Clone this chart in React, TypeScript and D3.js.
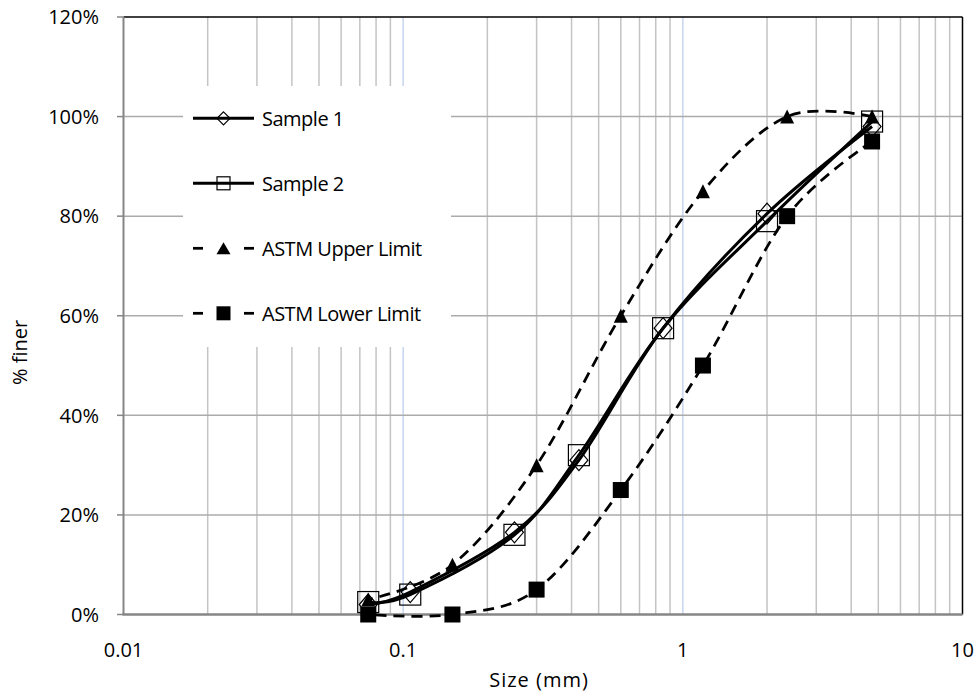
import React from "react";
import * as d3 from "d3";

// ---- Data ----
const sampleSizes = [4.75, 2.0, 0.85, 0.425, 0.25, 0.106, 0.075];
const sample1 = [98, 80.5, 57.5, 31, 16.5, 4.5, 2.0];
const sample2 = [99, 79, 57.5, 32, 16, 4, 2.5];
const limitSizes = [4.75, 2.36, 1.18, 0.6, 0.3, 0.15, 0.075];
const upperLimit = [100, 100, 85, 60, 30, 10, 3];
const lowerLimit = [95, 80, 50, 25, 5, 0, 0];
const yTicks = [0, 20, 40, 60, 80, 100, 120];
const xTicks = [0.01, 0.1, 1, 10];
const seriesNames = ["Sample 1", "Sample 2", "ASTM Upper Limit", "ASTM Lower Limit"];

const W = 979;
const H = 700;
const FONT = "'Open Sans', 'DejaVu Sans', sans-serif";

export default function App() {
  const x = d3.scaleLog().domain([0.01, 10]).range([123.5, 962.5]);
  const y = d3.scaleLinear().domain([0, 120]).range([614.5, 17]);

  const minor: number[] = [];
  [0.01, 0.1, 1].forEach((d) => {
    for (let k = 2; k <= 9; k++) minor.push(k * d);
  });

  const line = d3
    .line<[number, number]>()
    .x((p) => x(p[0]))
    .y((p) => y(p[1]))
    .curve(d3.curveCardinal.tension(0));

  const pts = (xs: number[], ys: number[]) => xs.map((v, i) => [v, ys[i]] as [number, number]);

  const series = [
    { name: seriesNames[0], data: pts(sampleSizes, sample1), dash: null, marker: "diamond" },
    { name: seriesNames[1], data: pts(sampleSizes, sample2), dash: null, marker: "square" },
    { name: seriesNames[2], data: pts(limitSizes, upperLimit), dash: "11,7", marker: "triangle" },
    { name: seriesNames[3], data: pts(limitSizes, lowerLimit), dash: "11,7", marker: "fsquare" },
  ];

  const marker = (type: string, cx: number, cy: number, big: boolean, key: string) => {
    if (type === "diamond") {
      const hw = big ? 9 : 6.5;
      const hh = big ? 10.5 : 6.5;
      return (
        <path
          key={key}
          d={`M${cx},${cy - hh}L${cx + hw},${cy}L${cx},${cy + hh}L${cx - hw},${cy}Z`}
          fill="none"
          stroke="#000"
          strokeWidth={1.2}
        />
      );
    }
    if (type === "square") {
      const h = big ? 10.5 : 6.5;
      return (
        <rect key={key} x={cx - h} y={cy - h} width={2 * h} height={2 * h} fill="none" stroke="#000" strokeWidth={1.2} />
      );
    }
    if (type === "triangle") {
      const hw = 7;
      const hh = big ? 7 : 6;
      return (
        <path key={key} d={`M${cx},${cy - hh}L${cx + hw},${cy + hh}L${cx - hw},${cy + hh}Z`} fill="#000" />
      );
    }
    const h = big ? 8 : 7;
    return <rect key={key} x={cx - h} y={cy - h} width={2 * h} height={2 * h} fill="#000" />;
  };

  const legendX0 = 193;
  const legendX1 = 254;
  const legendYs = [118.3, 183.3, 248.3, 313.3];

  return (
    <svg width={W} height={H} style={{ display: "block", position: "absolute", left: 0, top: 0 }}>
      <rect x={0} y={0} width={W} height={H} fill="#fff" />
      {/* vertical minor gridlines */}
      {minor.map((v) => (
        <line key={"mv" + v} x1={x(v)} x2={x(v)} y1={y(120)} y2={y(0)} stroke="#c4c4c4" strokeWidth={1.5} />
      ))}
      {/* vertical major gridlines */}
      {[0.1, 1].map((v) => (
        <line key={"Mv" + v} x1={x(v)} x2={x(v)} y1={y(120)} y2={y(0)} stroke="#c6d6f0" strokeWidth={1.5} />
      ))}
      {/* horizontal gridlines */}
      {yTicks.filter((t) => t > 0 && t < 120).map((t) => (
        <line key={"h" + t} x1={x(0.01)} x2={x(10)} y1={y(t)} y2={y(t)} stroke="#ababab" strokeWidth={1.5} />
      ))}
      {/* legend background */}
      <rect x={183} y={86} width={268} height={261} fill="#fff" />
      {/* borders */}
      <line x1={x(0.01)} x2={x(10)} y1={y(120)} y2={y(120)} stroke="#000" strokeWidth={1.5} />
      <line x1={x(10)} x2={x(10)} y1={y(120)} y2={y(0)} stroke="#000" strokeWidth={1.5} />
      <line x1={x(0.01)} x2={x(0.01)} y1={y(120)} y2={y(0)} stroke="#868686" strokeWidth={2} />
      <line x1={x(0.01) - 1} x2={x(10)} y1={y(0)} y2={y(0)} stroke="#868686" strokeWidth={2.5} />
      {yTicks.map((t) => (
        <line key={"yt" + t} x1={117} x2={x(0.01)} y1={y(t)} y2={y(t)} stroke="#868686" strokeWidth={1.5} />
      ))}
      {/* y tick labels */}
      {yTicks.map((t) => (
        <text key={"yl" + t} x={99} y={y(t)} dy="0.36em" textAnchor="end" fontFamily={FONT} fontSize={20} fill="#000">
          {t + "%"}
        </text>
      ))}
      {/* x tick labels */}
      {xTicks.map((t) => (
        <text key={"xl" + t} x={x(t)} y={657} textAnchor="middle" fontFamily={FONT} fontSize={20} fill="#000">
          {String(t)}
        </text>
      ))}
      <text x={539} y={687} textAnchor="middle" fontFamily={FONT} fontSize={20} letterSpacing={1} fill="#000">
        Size (mm)
      </text>
      <text transform="translate(27,352.5) rotate(-90)" textAnchor="middle" fontFamily={FONT} fontSize={20} fill="#000">
        % finer
      </text>
      {/* series */}
      {series.map((s, i) => (
        <g key={"s" + i}>
          <path
            d={line(s.data) || ""}
            fill="none"
            stroke="#000"
            strokeWidth={s.dash ? 2.75 : 3}
            strokeDasharray={s.dash || undefined}
          />
          {s.data.map((p, j) => marker(s.marker, x(p[0]), y(p[1]), true, `m${i}-${j}`))}
        </g>
      ))}
      {/* legend */}
      {series.map((s, i) => (
        <g key={"lg" + i}>
          {s.dash ? (
            <>
              <line x1={legendX0} x2={legendX0 + 10} y1={legendYs[i]} y2={legendYs[i]} stroke="#000" strokeWidth={2.75} />
              <line x1={legendX1 - 10} x2={legendX1} y1={legendYs[i]} y2={legendYs[i]} stroke="#000" strokeWidth={2.75} />
            </>
          ) : (
            <line x1={legendX0} x2={legendX1} y1={legendYs[i]} y2={legendYs[i]} stroke="#000" strokeWidth={3} />
          )}
          {marker(s.marker, (legendX0 + legendX1) / 2, legendYs[i], false, "lm" + i)}
          <text x={262} y={legendYs[i]} dy="0.36em" fontFamily={FONT} fontSize={20} letterSpacing={-0.5} fill="#000">
            {s.name}
          </text>
        </g>
      ))}
    </svg>
  );
}
